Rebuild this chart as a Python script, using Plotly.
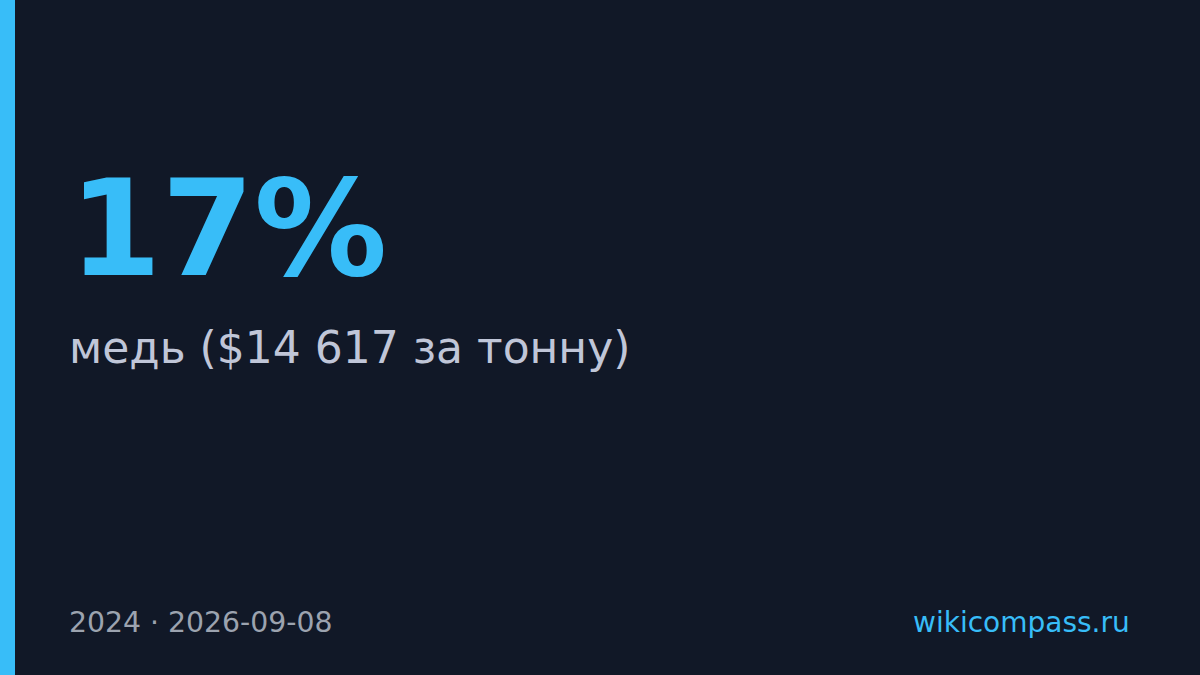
import plotly.graph_objects as go

# Card content
stat_value = ["17%"]
stat_label = ["медь ($14 617 за тонну)"]
footer_year = ["2024"]
footer_date = ["2026-09-08"]
site_name = ["wikicompass.ru"]

bg_color = "#111827"
accent = "#38bdf8"

fig = go.Figure()

# Left accent strip
fig.add_shape(type="rect", xref="x", yref="y", x0=0, x1=15, y0=0, y1=675,
              fillcolor=accent, line_width=0, layer="above")

font_family = "DejaVu Sans"

# Big number
fig.add_annotation(x=67, y=229, xref="x", yref="y", text=f"<b>{stat_value[0]}</b>",
                   showarrow=False, xanchor="left", yanchor="middle",
                   font=dict(family=font_family, size=133, color=accent))

# Label under the number
fig.add_annotation(x=67, y=347, xref="x", yref="y", text=stat_label[0],
                   showarrow=False, xanchor="left", yanchor="middle",
                   font=dict(family=font_family, size=44, color="#c0c6d8"))

# Footer
fig.add_annotation(x=67, y=622, xref="x", yref="y", text=f"{footer_year[0]} · {footer_date[0]}",
                   showarrow=False, xanchor="left", yanchor="middle",
                   font=dict(family=font_family, size=28.3, color="#9ca3af"))
fig.add_annotation(x=1132, y=622, xref="x", yref="y", text=site_name[0],
                   showarrow=False, xanchor="right", yanchor="middle",
                   font=dict(family=font_family, size=28, color=accent))

fig.update_xaxes(range=[0, 1200], visible=False, fixedrange=True)
fig.update_yaxes(range=[675, 0], visible=False, fixedrange=True)
fig.update_layout(width=1200, height=675, margin=dict(l=0, r=0, t=0, b=0),
                  paper_bgcolor=bg_color, plot_bgcolor=bg_color, showlegend=False)

fig.write_html("out.html", config={"displayModeBar": False})

# drop the default page margin so the card fills the window
with open("out.html", encoding="utf-8") as f:
    html = f.read()
html = html.replace("<body>", f'<body style="margin:0;background:{bg_color};overflow:hidden">', 1)
with open("out.html", "w", encoding="utf-8") as f:
    f.write(html)
